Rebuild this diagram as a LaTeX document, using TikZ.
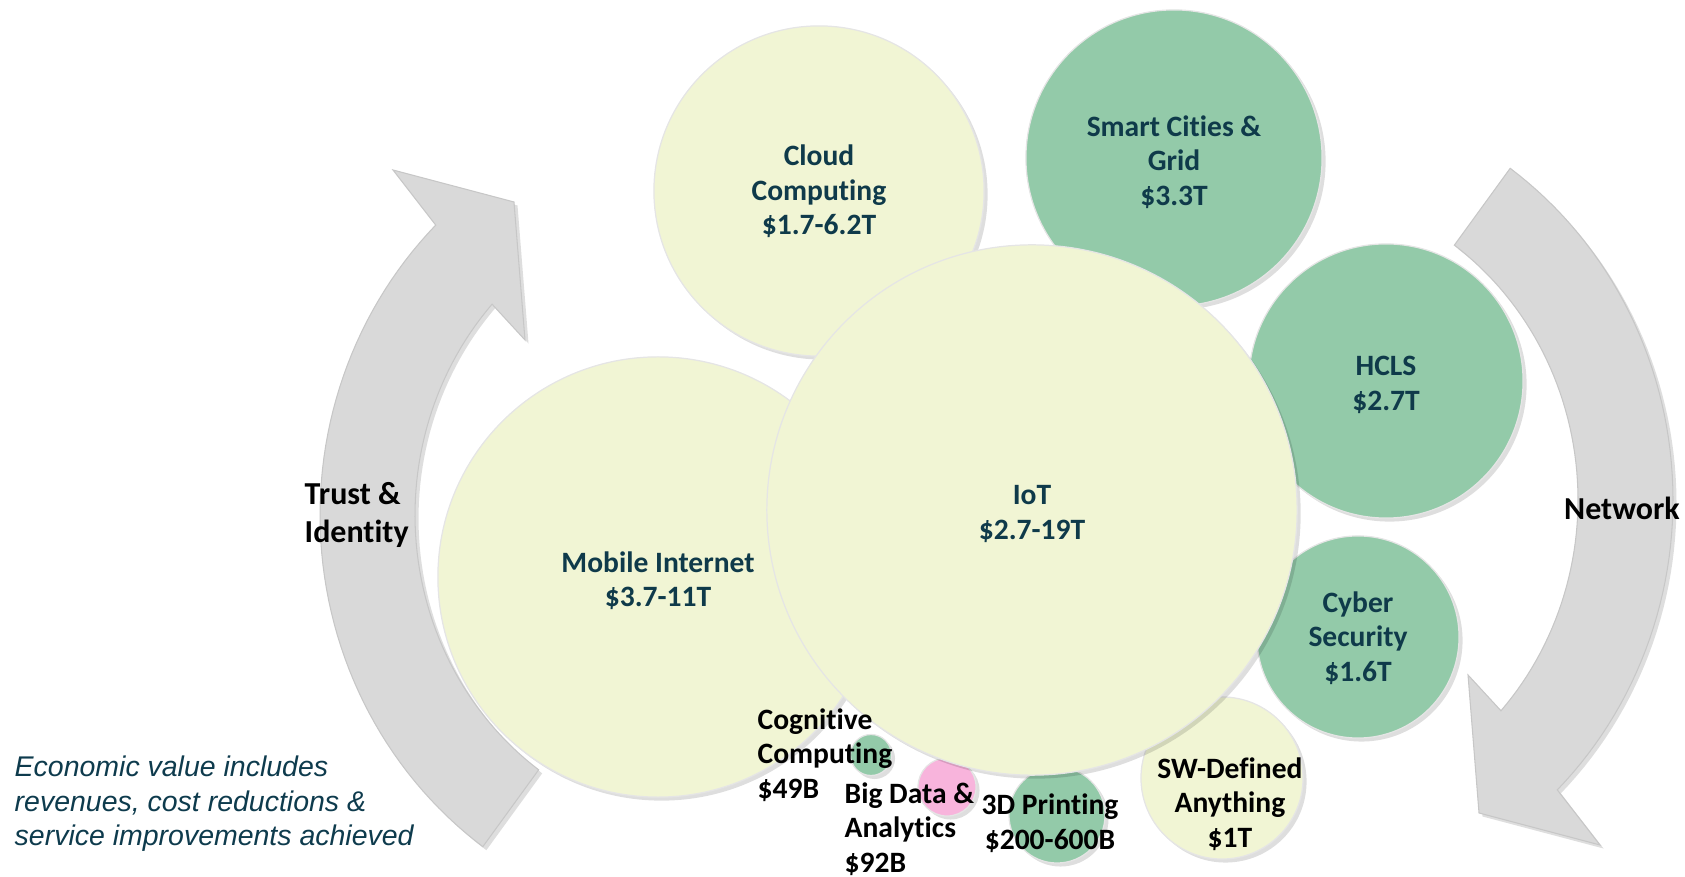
\documentclass[tikz,border=0pt]{standalone}
\usepackage{fontspec}
\setmainfont{Carlito}[Ligatures={NoCommon}]
\newfontfamily\capfont{Liberation Sans}
\usetikzlibrary{shadows}
\definecolor{bubyel}{HTML}{F1F5D4}
\definecolor{bubgrn}{HTML}{93CAA9}
\definecolor{bubpnk}{HTML}{F8B4DC}
\definecolor{arrgray}{HTML}{D9D9D9}
\definecolor{tealtxt}{HTML}{0F3A4A}
\definecolor{captxt}{HTML}{0E3B4D}
\tikzset{
  softshadow/.style={drop shadow={shadow xshift=1.0pt, shadow yshift=-1.0pt, opacity=0.13, fill=black}},
  bub/.style={circle, inner sep=0pt, softshadow, draw=black!10, line width=0.35pt},
  bubY/.style={bub, fill=bubyel},
  bubG/.style={bub, fill=bubgrn},
  bubP/.style={bub, fill=bubpnk},
  bubtext/.style={font=\fontsize{8.4}{9.8}\selectfont\bfseries, text=tealtxt, align=center, inner sep=0pt, yshift=-1.1pt},
  smalllbl/.style={font=\fontsize{8.4}{9.8}\selectfont\bfseries, text=black, inner sep=0pt},
  bigarrow/.style={fill=arrgray, draw=black!22, line width=0.3pt, softshadow},
  arrlbl/.style={font=\fontsize{9.1}{11}\selectfont\bfseries, text=black, inner sep=0pt},
  caption/.style={font=\capfont\itshape\fontsize{8.1}{9.8}\selectfont, text=captxt, inner sep=0pt, align=left},
}
\begin{document}
\begin{tikzpicture}[x=0.01cm, y=-0.01cm]
\useasboundingbox (0,0) rectangle (1685,877);
% left curved arrow (Trust & Identity), centre (715,515)
\path[bigarrow] plot[domain=126:225, samples=60] ({715+395*cos(\x)},{515+410*sin(\x)})
  -- (393,170) -- (514,202) -- (525,340)
  -- plot[domain=222:126, samples=60] ({715+300*cos(\x)},{515+315*sin(\x)}) -- cycle;
% right curved arrow (Network), centre (1278,500)
\path[bigarrow] plot[domain=-54:45, samples=60] ({1278+395*cos(\x)},{500+410*sin(\x)})
  -- (1600,845) -- (1479,813) -- (1468,675)
  -- plot[domain=42:-54, samples=60] ({1278+300*cos(\x)},{500+315*sin(\x)}) -- cycle;
% bubbles
\node[bubY, minimum size=4.40cm] (mobile) at (658,577) {};
\node[bubY, minimum size=3.30cm] (cloud) at (819,191) {};
\node[bubG, minimum size=2.96cm] (smart) at (1174,158) {};
\node[bubG, minimum size=2.74cm] (hcls) at (1386,381) {};
\node[bubG, minimum size=2.02cm] (cyber) at (1358,637) {};
\node[bubY, minimum size=1.62cm] (sw) at (1222,778) {};
\node[bubG, minimum size=0.96cm] (print) at (1057,815) {};
\node[bubP, minimum size=0.58cm] (bigdata) at (947,787) {};
\node[bubG, minimum size=0.41cm] (cog) at (871,755) {};
\node[bubY, minimum size=5.30cm] (iot) at (1032,510) {};
% bubble texts
\node[bubtext] (mobiletxt) at (mobile) {Mobile Internet\\\$3.7-11T};
\node[bubtext, yshift=1.0pt] (cloudtxt) at (cloud) {Cloud\\Computing\\\$1.7-6.2T};
\node[bubtext] (smarttxt) at (smart) {Smart Cities \&\\Grid\\\$3.3T};
\node[bubtext] (hclstxt) at (hcls) {HCLS\\\$2.7T};
\node[bubtext, yshift=0.8pt] (cybertxt) at (cyber) {Cyber\\Security\\\$1.6T};
\node[bubtext] (iottxt) at (iot) {IoT\\\$2.7-19T};
% labels
\node[smalllbl, anchor=west, align=left] (coglbl) at (757,755) {Cognitive\\Computing\\\$49B};
\node[smalllbl, anchor=west, align=left] (bdlbl) at (844,829) {Big Data \&\\Analytics\\\$92B};
\node[smalllbl, align=center] (printlbl) at (1050,823) {3D Printing\\\$200-600B};
\node[smalllbl, align=center] (swlbl) at (1230,804) {SW-Defined\\Anything\\\$1T};
\node[arrlbl, anchor=west, align=left] (trust) at (304,515) {Trust \&\\Identity};
\node[arrlbl] (network) at (1622,508) {Network};
\node[caption, anchor=west] (note) at (14,804) {Economic value includes\\revenues, cost reductions \&\\service improvements achieved};
\end{tikzpicture}
\end{document}
